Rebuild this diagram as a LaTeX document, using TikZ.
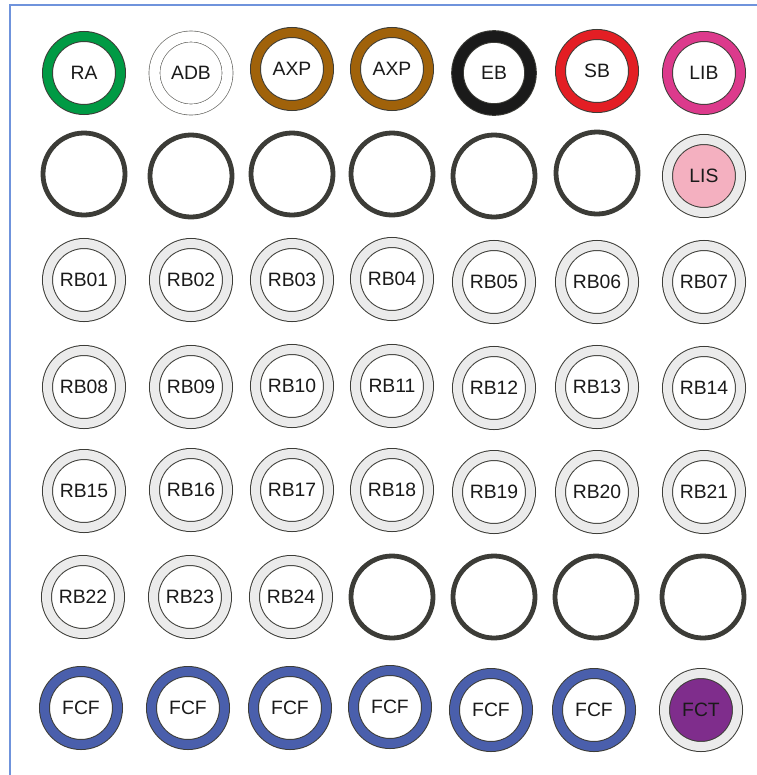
\documentclass[tikz,border=0pt]{standalone}
\usepackage{fontspec}
\setmainfont{Liberation Sans}
\usepackage{xcolor}
\definecolor{frameblue}{HTML}{6F93DC}
\definecolor{rimdark}{HTML}{3C3C37}
\definecolor{ringgray}{HTML}{EBEBEB}
\definecolor{ragreen}{HTML}{009A44}
\definecolor{axpbrown}{HTML}{A0620A}
\definecolor{ebblack}{HTML}{1A1A1A}
\definecolor{sbred}{HTML}{E31E24}
\definecolor{libmagenta}{HTML}{DC3A8C}
\definecolor{lispink}{HTML}{F4B0C0}
\definecolor{fctpurple}{HTML}{7F2D8C}
\definecolor{fcfblue}{HTML}{4A5FAC}
\tikzset{
    ring/.style={circle, minimum size=54.75pt, inner sep=0pt, fill=white, draw=rimdark,
        line width=0.75pt, double=#1, double distance=6.75pt, text=ebblack,
        font=\fontsize{14.5}{17}\selectfont},
    ring/.default=ringgray,
    slot/.style={circle, minimum size=61.5pt, inner sep=0pt, fill=white, draw=rimdark,
        line width=3.6pt}
}
\begin{document}
\begin{tikzpicture}[x=0.75pt,y=-0.75pt]
    \useasboundingbox (0,0) rectangle (757,775);
    \fill[white] (0,0) rectangle (757,775);
    \draw[frameblue, line width=1.5pt] (10,790)--(10,5)--(770,5);
    % top row
    \node [ring=ragreen] (RA) at (84,73) {RA};
    \node [ring=white, draw=rimdark!80, line width=0.5pt, double distance=7.75pt] (ADB) at (191,73) {ADB};
    \node [ring=axpbrown] (AXPa) at (292,69) {AXP};
    \node [ring=axpbrown] (AXPb) at (392,69) {AXP};
    \node [ring=ebblack, double distance=8pt] (EB) at (494,73) {EB};
    \node [ring=sbred] (SB) at (597,71) {SB};
    \node [ring=libmagenta] (LIB) at (704,73) {LIB};
    % second row
    \node [slot] (E1) at (84,174) {};
    \node [slot] (E2) at (191,176) {};
    \node [slot] (E3) at (292,174) {};
    \node [slot] (E4) at (392,174) {};
    \node [slot] (E5) at (494,176) {};
    \node [slot] (E6) at (597,173) {};
    \node [ring, fill=lispink] (LIS) at (704,176) {LIS};
    % reserve rows
    \node [ring] (RB01) at (84,280) {RB01};
    \node [ring] (RB02) at (191,280) {RB02};
    \node [ring] (RB03) at (292,280) {RB03};
    \node [ring] (RB04) at (392,279) {RB04};
    \node [ring] (RB05) at (494,282) {RB05};
    \node [ring] (RB06) at (597,282) {RB06};
    \node [ring] (RB07) at (704,282) {RB07};
    \node [ring] (RB08) at (84,387) {RB08};
    \node [ring] (RB09) at (191,387) {RB09};
    \node [ring] (RB10) at (292,386) {RB10};
    \node [ring] (RB11) at (392,386) {RB11};
    \node [ring] (RB12) at (494,388) {RB12};
    \node [ring] (RB13) at (597,387) {RB13};
    \node [ring] (RB14) at (704,388) {RB14};
    \node [ring] (RB15) at (84,491) {RB15};
    \node [ring] (RB16) at (191,490) {RB16};
    \node [ring] (RB17) at (292,490) {RB17};
    \node [ring] (RB18) at (392,490) {RB18};
    \node [ring] (RB19) at (494,492) {RB19};
    \node [ring] (RB20) at (597,492) {RB20};
    \node [ring] (RB21) at (704,492) {RB21};
    \node [ring] (RB22) at (83,597) {RB22};
    \node [ring] (RB23) at (190,597) {RB23};
    \node [ring] (RB24) at (291,597) {RB24};
    \node [slot] (E7) at (392,597) {};
    \node [slot] (E8) at (494,597) {};
    \node [slot] (E9) at (596,597) {};
    \node [slot] (E10) at (703,597) {};
    % bottom row
    \node [ring=fcfblue] (FCFa) at (81,708) {FCF};
    \node [ring=fcfblue] (FCFb) at (188,708) {FCF};
    \node [ring=fcfblue] (FCFc) at (290,708) {FCF};
    \node [ring=fcfblue] (FCFd) at (390,707) {FCF};
    \node [ring=fcfblue] (FCFe) at (491,710) {FCF};
    \node [ring=fcfblue] (FCFf) at (594,710) {FCF};
    \node [ring, fill=fctpurple] (FCT) at (701,710) {FCT};
\end{tikzpicture}
\end{document}
